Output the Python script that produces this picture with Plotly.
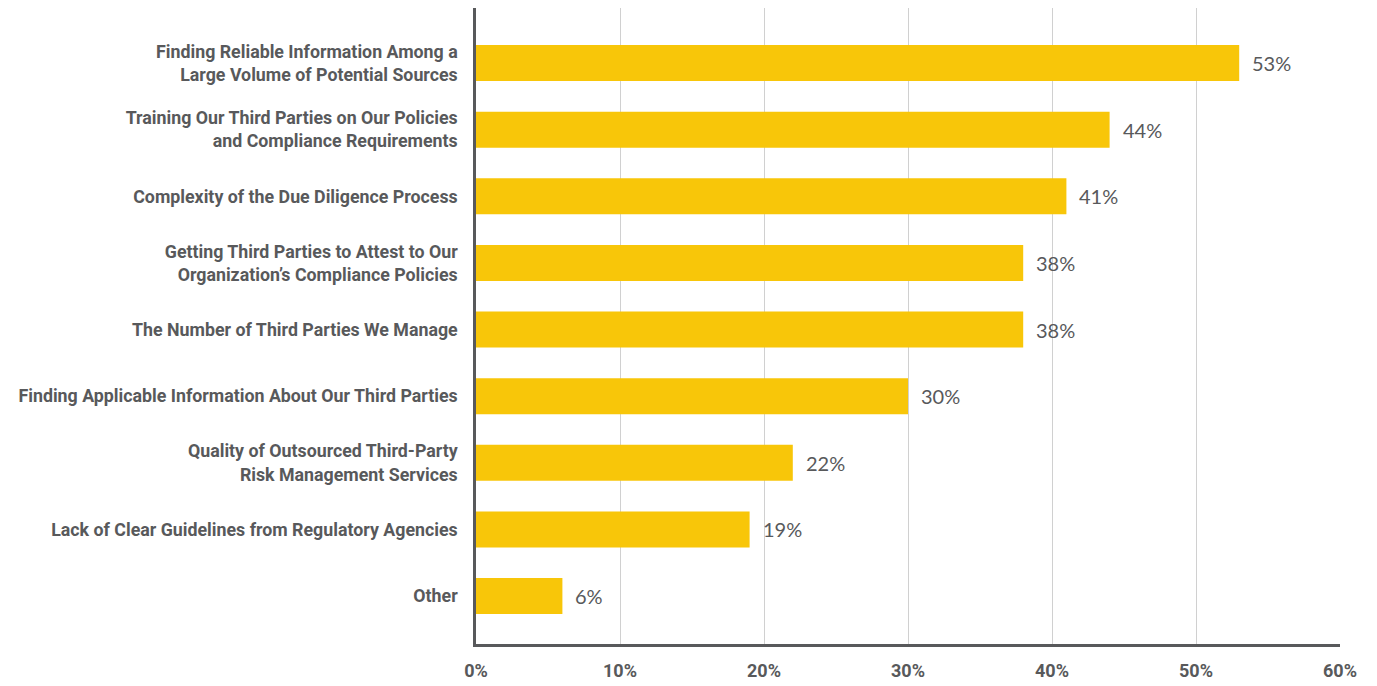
import plotly.graph_objects as go

categories = [
    "Finding Reliable Information Among a<br>Large Volume of Potential Sources",
    "Training Our Third Parties on Our Policies<br>and Compliance Requirements",
    "Complexity of the Due Diligence Process",
    "Getting Third Parties to Attest to Our<br>Organization’s Compliance Policies",
    "The Number of Third Parties We Manage",
    "Finding Applicable Information About Our Third Parties",
    "Quality of Outsourced Third-Party<br>Risk Management Services",
    "Lack of Clear Guidelines from Regulatory Agencies",
    "Other",
]
values = [53, 44, 41, 38, 38, 30, 22, 19, 6]
tick_vals = [0, 10, 20, 30, 40, 50, 60]
tick_text = ["0%", "10%", "20%", "30%", "40%", "50%", "60%"]

bar_color = "#F8C609"
ink = "#58595B"
label_font = "Roboto, Liberation Sans, sans-serif"

fig = go.Figure()
fig.add_trace(go.Bar(
    x=values,
    y=categories,
    orientation="h",
    marker=dict(color=bar_color, line=dict(width=0)),
    hoverinfo="skip",
))

for cat, val in zip(categories, values):
    fig.add_annotation(
        x=val, y=cat, text=f"{val}%", showarrow=False,
        xanchor="left", yanchor="middle", xshift=11,
        font=dict(family="Lato, Open Sans, sans-serif", size=20, color=ink),
    )

fig.update_layout(
    width=1377, height=686,
    margin=dict(l=476, r=37, t=8, b=42),
    paper_bgcolor="white", plot_bgcolor="white",
    bargap=0.46,
    showlegend=False,
    xaxis=dict(
        range=[0, 60], tickvals=tick_vals, ticktext=tick_text,
        showgrid=True, gridcolor="#D0D0D0", gridwidth=1,
        showline=True, linecolor=ink, linewidth=2.5,
        zeroline=False, ticks="", ticklabelstandoff=9,
        tickfont=dict(family=label_font, size=18, color=ink, weight="bold"),
        automargin=False, fixedrange=True,
    ),
    yaxis=dict(
        categoryorder="array", categoryarray=categories,
        range=[8.72, -0.826],
        showgrid=False, showline=True, linecolor=ink, linewidth=2.5,
        ticks="", ticklabelstandoff=12,
        tickfont=dict(family=label_font, size=17.8, color=ink, weight="bold"),
        automargin=False, fixedrange=True,
    ),
)

fig.write_html("out.html")
